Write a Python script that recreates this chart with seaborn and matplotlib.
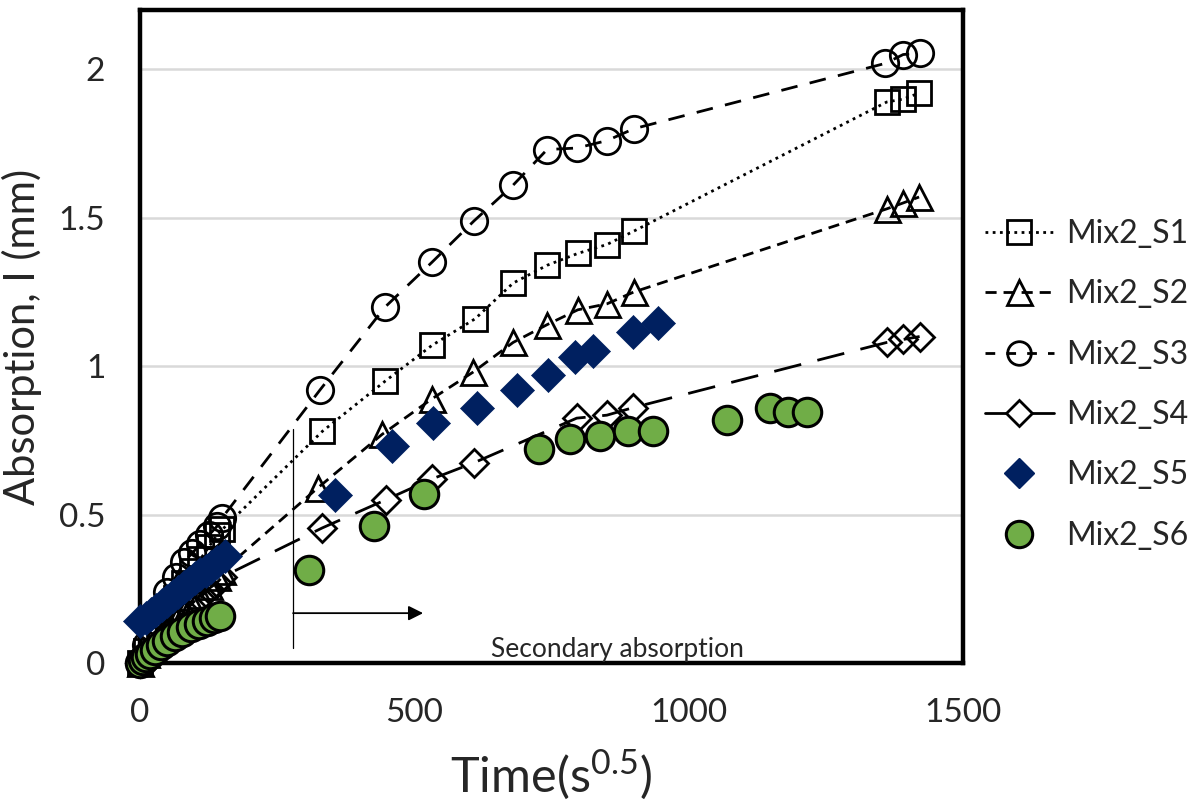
"""
Sorptivity plot: absorption vs square root of time for Mix2 samples S1-S6.
"""

import pandas as pd
import matplotlib.pyplot as plt
from matplotlib.lines import Line2D
import seaborn as sns

# Time in s^0.5, absorption in mm
s1_time = [0, 10, 20, 35, 50, 65, 80, 95, 110, 125, 140, 150,
           332, 447, 532, 611, 680, 742, 798, 851, 900, 1361, 1391, 1420]
s1_abs = [0, 0.04, 0.08, 0.13, 0.18, 0.22, 0.27, 0.31, 0.35, 0.39, 0.43, 0.45,
          0.78, 0.95, 1.07, 1.16, 1.28, 1.34, 1.38, 1.41, 1.455, 1.89, 1.90, 1.92]

s2_time = [0, 10, 20, 35, 50, 65, 80, 95, 110, 125, 140, 150,
           324, 441, 532, 607, 680, 742, 798, 851, 900, 1361, 1391, 1420]
s2_abs = [0, 0.03, 0.05, 0.08, 0.11, 0.14, 0.17, 0.20, 0.23, 0.26, 0.29, 0.31,
          0.59, 0.77, 0.89, 0.98, 1.08, 1.14, 1.19, 1.21, 1.25, 1.53, 1.55, 1.57]

s3_time = [0, 10, 20, 35, 50, 65, 80, 95, 110, 125, 140, 150,
           328, 447, 532, 609, 680, 742, 796, 851, 900, 1358, 1391, 1421]
s3_abs = [0, 0.06, 0.12, 0.18, 0.24, 0.29, 0.34, 0.37, 0.40, 0.43, 0.46, 0.49,
          0.92, 1.20, 1.35, 1.49, 1.61, 1.73, 1.735, 1.76, 1.80, 2.02, 2.05, 2.055]

s4_time = [0, 10, 20, 35, 50, 65, 80, 95, 110, 125, 140, 150,
           332, 448, 532, 609, 796, 851, 898, 1361, 1391, 1421]
s4_abs = [0, 0.02, 0.04, 0.07, 0.10, 0.13, 0.16, 0.19, 0.22, 0.25, 0.27, 0.29,
          0.455, 0.55, 0.62, 0.675, 0.825, 0.835, 0.86, 1.08, 1.09, 1.10]

s5_time = [0, 10, 20, 30, 40, 50, 60, 70, 80, 90, 100, 110, 120, 130, 140, 155,
           355, 459, 534, 614, 687, 744, 793, 826, 898, 944]
s5_abs = [0.14, 0.15, 0.165, 0.18, 0.195, 0.21, 0.225, 0.24, 0.255, 0.27, 0.285,
          0.30, 0.31, 0.325, 0.34, 0.36,
          0.565, 0.73, 0.81, 0.86, 0.92, 0.97, 1.03, 1.05, 1.115, 1.145]

s6_time = [0, 5, 10, 18, 27, 38, 50, 63, 77, 92, 107, 122, 135, 146,
           308, 426, 518, 727, 784, 838, 889, 935, 1070, 1148, 1181, 1216]
s6_abs = [0, 0.01, 0.02, 0.03, 0.045, 0.06, 0.075, 0.09, 0.105, 0.12, 0.13,
          0.14, 0.15, 0.16,
          0.315, 0.46, 0.57, 0.72, 0.755, 0.765, 0.78, 0.78, 0.82, 0.86, 0.845, 0.845]

series_names = ['Mix2_S1', 'Mix2_S2', 'Mix2_S3', 'Mix2_S4', 'Mix2_S5', 'Mix2_S6']
x_ticks = [0, 500, 1000, 1500]
y_ticks = [0, 0.5, 1, 1.5, 2]
y_tick_labels = ['0', '0.5', '1', '1.5', '2']

NAVY = '#002060'
GREEN = '#70ad47'


def main():
    sns.set_style('white')
    plt.rcParams['font.family'] = ['Lato', 'DejaVu Sans']
    plt.rcParams['mathtext.fontset'] = 'custom'
    plt.rcParams['mathtext.rm'] = 'Lato'

    fig = plt.figure(figsize=(12.01, 8.02), dpi=100)
    ax = fig.add_axes([0.1166, 0.1733, 0.6852, 0.8142])

    # line series with hollow markers
    line_specs = [
        (s1_time, s1_abs, 's', 17, (0, (1, 1.6))),
        (s2_time, s2_abs, '^', 18, (0, (4, 2.5))),
        (s3_time, s3_abs, 'o', 19, (0, (6, 4.5))),
        (s4_time, s4_abs, 'D', 14, (0, (10, 6))),
    ]
    for xs, ys, mk, ms, ls in line_specs:
        df = pd.DataFrame({'time': xs, 'absorption': ys})
        sns.lineplot(data=df, x='time', y='absorption', ax=ax, sort=False,
                     estimator=None, color='black', linewidth=2.0,
                     linestyle=ls, marker=mk, markersize=ms,
                     markerfacecolor='none', markeredgecolor='black',
                     markeredgewidth=2.0, clip_on=False, zorder=3)

    # filled marker series without lines
    df5 = pd.DataFrame({'time': s5_time, 'absorption': s5_abs})
    sns.scatterplot(data=df5, x='time', y='absorption', ax=ax, marker='D',
                    s=300, color=NAVY, edgecolor=NAVY, linewidth=0.5,
                    clip_on=False, zorder=4)
    df6 = pd.DataFrame({'time': s6_time, 'absorption': s6_abs})
    sns.scatterplot(data=df6, x='time', y='absorption', ax=ax, marker='o',
                    s=420, color=GREEN, edgecolor='black', linewidth=2.2,
                    clip_on=False, zorder=5)

    ax.set_xlim(0, 1500)
    ax.set_ylim(0, 2.2)
    ax.set_xticks(x_ticks)
    ax.set_yticks(y_ticks)
    ax.set_yticklabels(y_tick_labels)
    ax.tick_params(axis='both', length=0, labelsize=24)
    ax.tick_params(axis='x', pad=25)
    ax.tick_params(axis='y', pad=25)
    ax.yaxis.grid(True, color='#d9d9d9', linewidth=1.8)
    ax.xaxis.grid(False)
    ax.set_axisbelow(True)
    for spine in ax.spines.values():
        spine.set_visible(True)
        spine.set_color('black')
        spine.set_linewidth(3.2)
        spine.set_zorder(2)

    ax.set_xlabel(r'Time(s$^{0.5}$)', fontsize=35, labelpad=14)
    ax.set_ylabel('Absorption, I (mm)', fontsize=30, labelpad=12)

    # secondary absorption marker
    ax.plot([279, 279], [0.05, 0.79], color='black', linewidth=0.9)
    ax.annotate('', xy=(516, 0.168), xytext=(279, 0.168),
                arrowprops=dict(arrowstyle='-|>', color='black', lw=1.3,
                                mutation_scale=22, shrinkA=0, shrinkB=0))
    ax.text(871, 0.044, 'Secondary absorption', fontsize=19,
            ha='center', va='center')

    # legend (S4 shows a solid line in the original)
    handles = [
        Line2D([], [], color='black', linestyle=(0, (1, 1.6)), lw=2.0, marker='s',
               markersize=17, markerfacecolor='none', markeredgewidth=2.0),
        Line2D([], [], color='black', linestyle=(0, (4, 2.5)), lw=2.0, marker='^',
               markersize=18, markerfacecolor='none', markeredgewidth=2.0),
        Line2D([], [], color='black', linestyle=(0, (3.5, 4)), lw=2.0, marker='o',
               markersize=17, markerfacecolor='none', markeredgewidth=2.0),
        Line2D([], [], color='black', linestyle='-', lw=2.0, marker='D',
               markersize=13, markerfacecolor='white', markeredgewidth=2.0),
        Line2D([], [], linestyle='none', marker='D', markersize=15,
               markerfacecolor=NAVY, markeredgecolor=NAVY),
        Line2D([], [], linestyle='none', marker='o', markersize=19,
               markerfacecolor=GREEN, markeredgecolor='black', markeredgewidth=2.2),
    ]
    fig.legend(handles, series_names, loc='center left',
               bbox_to_anchor=(0.82, 0.52), frameon=False, fontsize=23,
               borderpad=0, borderaxespad=0,
               handlelength=2.15, handletextpad=0.4, labelspacing=0.95)

    plt.savefig('out.png', dpi=100)
    plt.close()


if __name__ == "__main__":
    main()
